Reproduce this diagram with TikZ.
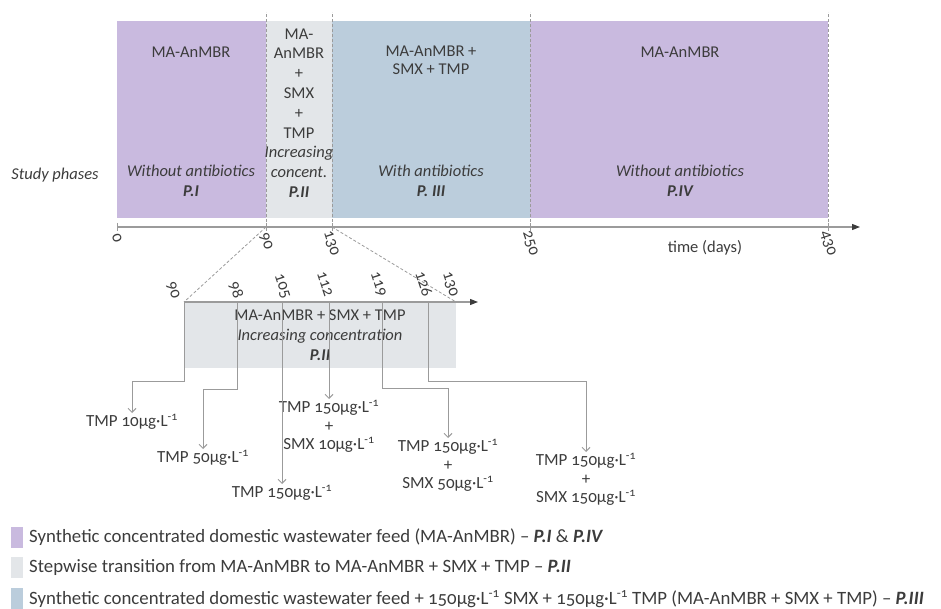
\documentclass[tikz,border=0pt]{standalone}
\usepackage{fontspec}
\setmainfont{Carlito}[Numbers=OldStyle]
\usetikzlibrary{arrows.meta}
\definecolor{phpurple}{RGB}{201,186,223}
\definecolor{phgrey}{RGB}{227,230,233}
\definecolor{phblue}{RGB}{187,205,220}
\definecolor{txt}{RGB}{60,60,60}
\definecolor{ln}{RGB}{155,155,155}
\newcommand{\ugl}{µg·L\textsuperscript{-1}}
\tikzset{
  lbl/.style={text=txt,font=\fontsize{16.5}{20}\selectfont,inner sep=1pt,align=center},
  steplbl/.style={lbl,anchor=north,font=\fontsize{17}{18.5}\selectfont},
  leg/.style={text=txt,font=\fontsize{18.8}{22}\selectfont,inner sep=0pt,anchor=west},
  ticklbl/.style={text=txt,font=\fontsize{16.5}{20}\selectfont,inner sep=0pt,rotate=-72},
  dsh/.style={draw=ln,line width=0.8pt,dash pattern=on 3pt off 2pt},
  axis/.style={draw=ln,line width=1.2pt,-{Triangle[length=8pt,width=6pt,fill=txt,color=txt]}},
  conn/.style={draw=ln,line width=1pt,-{Straight Barb[length=4pt,width=8pt]}},
  tk/.style={draw=ln,line width=1pt},
}
\begin{document}
\begin{tikzpicture}[x=1pt,y=-1pt]
\useasboundingbox (0,0) rectangle (941,609);
% top phase bands
\fill[phpurple] (117,21) rectangle (266,218);
\fill[phgrey] (266,21) rectangle (332,218);
\fill[phblue] (332,21) rectangle (530,218);
\fill[phpurple] (530,21) rectangle (828,218);
% coordinates on the top axis
\coordinate (a0) at (117,227);
\coordinate (a90) at (266,227);
\coordinate (a130) at (332,227);
\coordinate (a250) at (530,227);
\coordinate (a430) at (828,227);
\coordinate (aend) at (860,227);
\foreach \n in {a90,a130,a250,a430}{\draw[dsh] (\n) -- ++(0,-215);}
\draw[axis] (a0) -- (aend);
\foreach \n in {a0,a90,a130,a250,a430}{\draw[tk] (\n) ++(0,-4) -- ++(0,8);}
\node[ticklbl] (n0) at (117,238) {0};
\node[ticklbl] (n90) at (266,241) {90};
\node[ticklbl] (n130) at (331,243) {130};
\node[ticklbl] (n250) at (530,243) {250};
\node[ticklbl] (n430) at (828,243) {430};
\node[lbl] (time) at (705,248) {time (days)};
\node[lbl] (study) at (55,175) {\itshape Study phases};
% phase texts
\node[lbl] (p1top) at (191,52) {MA-AnMBR};
\node[lbl] (p1bot) at (191,181) {\itshape Without antibiotics\\\bfseries\itshape P.I};
\node[lbl,font=\fontsize{16.5}{19.8}\selectfont] (p2) at (299,113) {MA-\\AnMBR\\+\\SMX\\+\\TMP\\\itshape Increasing\\\itshape concent.\\\bfseries\itshape P.II};
\node[lbl,font=\fontsize{16.5}{18}\selectfont] (p3top) at (431,60) {MA-AnMBR +\\SMX + TMP};
\node[lbl] (p3bot) at (431,181) {\itshape With antibiotics\\\bfseries\itshape P. III};
\node[lbl] (p4top) at (680,52) {MA-AnMBR};
\node[lbl] (p4bot) at (680,181) {\itshape Without antibiotics\\\bfseries\itshape P.IV};
% zoomed phase II
\fill[phgrey] (184,302) rectangle (456,368);
\coordinate (t90) at (184,302);
\coordinate (t98) at (237,302);
\coordinate (t105) at (282,302);
\coordinate (t112) at (329,302);
\coordinate (t119) at (382,302);
\coordinate (t126) at (428,302);
\coordinate (t130) at (456,302);
\coordinate (tend) at (478,302);
\draw[dsh] (a90) -- (t90);
\draw[dsh] (a130) -- (t130);
\draw[axis] (t90) -- (tend);
\node[ticklbl] (m90) at (173,290) {90};
\node[ticklbl] (m98) at (236,290) {98};
\node[ticklbl] (m105) at (282,286) {105};
\node[ticklbl] (m112) at (325,284) {112};
\node[ticklbl] (m119) at (378,284) {119};
\node[ticklbl] (m126) at (424,284) {126};
\node[ticklbl] (m130) at (450,284) {130};
\node[lbl] (p2z) at (320,335) {MA-AnMBR + SMX + TMP\\\itshape Increasing concentration\\\bfseries\itshape P.II};
% concentration steps
\node[steplbl] (l90) at (132,413) {TMP 10\ugl};
\node[steplbl] (l98) at (203,449) {TMP 50\ugl};
\node[steplbl] (l105) at (282,484) {TMP 150\ugl};
\node[steplbl] (l112) at (329,399) {TMP 150\ugl\\+\\SMX 10\ugl};
\node[steplbl] (l119) at (448,438) {TMP 150\ugl\\+\\SMX 50\ugl};
\node[steplbl] (l126) at (586,452) {TMP 150\ugl\\+\\SMX 150\ugl};
\draw[conn] (t90) -- ++(0,79) -| (l90.north);
\draw[conn] (t98) -- ++(0,87) -| (l98.north);
\draw[conn] (t105) -- (l105.north);
\draw[conn] (t112) -- (l112.north);
\draw[conn] (t119) -- ++(0,86) -| (l119.north);
\draw[conn] (t126) -- ++(0,79) -| (l126.north);
% legend
\fill[phpurple] (11,527) rectangle (23,548);
\fill[phgrey] (11,557) rectangle (23,578);
\fill[phblue] (11,588) rectangle (23,609);
\node[leg] (g1) at (29,537) {Synthetic concentrated domestic wastewater feed (MA-AnMBR) – \textbf{\textit{P.I}} \& \textbf{\textit{P.IV}}};
\node[leg] (g2) at (29,568) {Stepwise transition from MA-AnMBR to MA-AnMBR + SMX + TMP – \textbf{\textit{P.II}}};
\node[leg] (g3) at (29,599) {Synthetic concentrated domestic wastewater feed + 150\ugl{} SMX + 150\ugl{} TMP (MA-AnMBR + SMX + TMP) – \textbf{\textit{P.III}}};
\end{tikzpicture}
\end{document}
